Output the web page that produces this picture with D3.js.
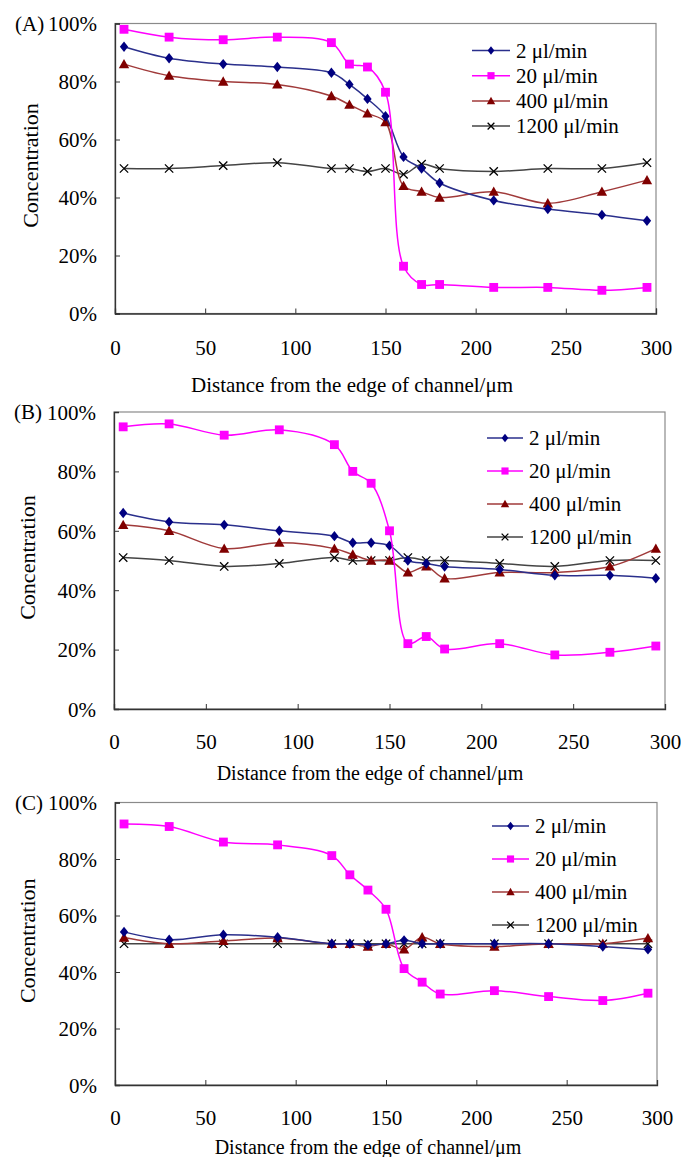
<!DOCTYPE html>
<html>
<head>
<meta charset="utf-8">
<script src="https://cdn.jsdelivr.net/npm/d3@7"></script>
<style>
  body { margin: 0; background: #fff; }
</style>
</head>
<body>
<svg id="chart" width="681" height="1157"></svg>
<script>
// distance from channel edge (um)
const distance = [5, 30, 60, 90, 120, 130, 140, 150, 160, 170, 180, 210, 240, 270, 295];
const flowRates = ["2 \u03bcl/min", "20 \u03bcl/min", "400 \u03bcl/min", "1200 \u03bcl/min"];
const xTicks = [0, 50, 100, 150, 200, 250, 300];
const yTicks = [0, 20, 40, 60, 80, 100];

// panel A (%)
const a2 = [92, 88, 86, 85, 83, 79, 74, 68, 54, 50, 45, 39, 36, 34, 32];
const a20 = [98, 95.3, 94.4, 95.3, 93.4, 86, 85, 76.3, 16.3, 10, 10, 9, 9, 8, 9];
const a400 = [86, 82, 80, 79, 75, 72, 69, 66, 44, 42, 40, 42, 38, 42, 46];
const a1200 = [50, 50, 51, 52, 50, 50, 49, 50, 48, 51.5, 50, 49, 50, 50, 52];

// panel B (%)
const b2 = [66, 63, 62, 60, 58.2, 56, 56, 55, 50, 49, 48, 47, 45, 45, 44];
const b20 = [95, 96, 92.2, 94, 89, 80, 76, 60, 22, 24.4, 20.2, 22, 18.2, 19.1, 21.2];
const b400 = [62, 60, 54, 56, 54, 52, 50, 50, 46, 48, 44, 46, 46, 48, 54];
const b1200 = [51, 50, 48, 49, 51, 50, 50, 50, 51, 50, 50, 49, 48, 50, 50];

// panel C (%)
const c2 = [54.2, 51.4, 53.2, 52.3, 50, 50, 49.6, 50, 51.2, 50, 50, 50, 50, 49, 48];
const c20 = [92.4, 91.5, 86, 85, 81.2, 74.4, 69, 62.2, 41.2, 36.4, 32.2, 33.4, 31.3, 29.9, 32.5];
const c400 = [52.2, 50, 51, 52, 50, 50, 49, 50, 48, 52.3, 50, 49, 50, 50, 52];
const c1200 = [50, 50, 50, 50, 50, 50, 50, 50, 50, 50, 50, 50, 50, 50, 50];

const FONT = "'Liberation Serif', 'Times New Roman', serif";

const styles = [
  { line: "#2a2f8c", fill: "#000080", mark: "diamond" },
  { line: "#ff00ff", fill: "#ff00ff", mark: "square" },
  { line: "#a03a3a", fill: "#800000", mark: "triangle" },
  { line: "#444444", fill: "#000000", mark: "cross" }
];

const panels = [
  { tag: "(A)", series: [a2, a20, a400, a1200], left: 115, right: 656, top: 23.5, bottom: 313.5,
    tickPad: 27, titleX: 352, titleY: 385, titleSize: 21, ylabX: 30,
    legX: 472, legW: 38, legY: 50.5, legStep: 25.2 },
  { tag: "(B)", series: [b2, b20, b400, b1200], left: 114, right: 665, top: 412, bottom: 709,
    tickPad: 25, titleX: 370, titleY: 773, titleSize: 20, ylabX: 27,
    legX: 487, legW: 36, legY: 438, legStep: 33 },
  { tag: "(C)", series: [c2, c20, c400, c1200], left: 115, right: 657, top: 802.5, bottom: 1085,
    tickPad: 25, titleX: 368, titleY: 1147, titleSize: 20, ylabX: 27,
    legX: 492, legW: 37, legY: 826, legStep: 33 }
];

const svg = d3.select("#chart");

function marker(g, kind, x, y, s, st) {
  if (kind === "diamond") {
    g.append("path").attr("d", `M${x},${y - s}L${x + s * 0.8},${y}L${x},${y + s}L${x - s * 0.8},${y}Z`)
      .attr("fill", st.fill);
  } else if (kind === "square") {
    g.append("rect").attr("x", x - s * 0.85).attr("y", y - s * 0.85)
      .attr("width", s * 1.7).attr("height", s * 1.7).attr("fill", st.fill);
  } else if (kind === "triangle") {
    g.append("path").attr("d", `M${x},${y - s}L${x + s},${y + s * 0.8}L${x - s},${y + s * 0.8}Z`)
      .attr("fill", st.fill);
  } else {
    g.append("path").attr("d", `M${x - s * 0.8},${y - s * 0.8}L${x + s * 0.8},${y + s * 0.8}M${x + s * 0.8},${y - s * 0.8}L${x - s * 0.8},${y + s * 0.8}`)
      .attr("stroke", st.fill).attr("stroke-width", 1.3).attr("fill", "none");
  }
}

panels.forEach(function(p) {
  const x = d3.scaleLinear().domain([0, 300]).range([p.left, p.right]);
  const y = d3.scaleLinear().domain([0, 100]).range([p.bottom, p.top]);
  const g = svg.append("g");

  // frame
  g.append("rect").attr("x", p.left).attr("y", p.top)
    .attr("width", p.right - p.left).attr("height", p.bottom - p.top)
    .attr("fill", "none").attr("stroke", "#8a8a8a").attr("stroke-width", 1.2);

  const xAxis = g.append("g").attr("transform", `translate(0,${p.bottom})`)
    .call(d3.axisBottom(x).tickValues(xTicks).tickSize(-5).tickPadding(p.tickPad).tickFormat(d3.format("d")));
  const yAxis = g.append("g").attr("transform", `translate(${p.left},0)`)
    .call(d3.axisLeft(y).tickValues(yTicks).tickSize(-5).tickPadding(18).tickFormat(d => d + "%"));
  [xAxis, yAxis].forEach(function(ax) {
    ax.attr("font-family", FONT).attr("font-size", 21);
    ax.select(".domain").attr("stroke", "#333").attr("stroke-width", 1.3);
    ax.selectAll(".tick line").attr("stroke", "#333");
    ax.selectAll("text").style("font-family", FONT).style("font-size", "21px").attr("fill", "#000");
  });
  yAxis.selectAll("text").attr("dy", "0.35em");

  g.append("text").attr("x", p.titleX).attr("y", p.titleY).attr("dy", "0.35em")
    .attr("text-anchor", "middle").style("font-family", FONT).style("font-size", p.titleSize + "px")
    .text("Distance from the edge of channel/\u03bcm");
  g.append("text").attr("transform", `translate(${p.ylabX},${(p.top + p.bottom) / 2 - 3}) rotate(-90)`)
    .attr("dy", "0.35em").attr("text-anchor", "middle")
    .style("font-family", FONT).style("font-size", "22px")
    .text("Concentration");
  g.append("text").attr("x", p.left - 100).attr("y", p.top).attr("dy", "0.35em")
    .style("font-family", FONT).style("font-size", "21px").text(p.tag);

  const line = d3.line().x((d, i) => x(distance[i])).y(d => y(d))
    .curve(d3.curveCatmullRom.alpha(0.5));

  // draw gray first, then red, blue, pink on top
  [3, 2, 0, 1].forEach(function(k) {
    const st = styles[k];
    const vals = p.series[k];
    g.append("path").datum(vals).attr("d", line)
      .attr("fill", "none").attr("stroke", st.line).attr("stroke-width", 1.5);
    const mg = g.append("g");
    vals.forEach(function(v, i) {
      marker(mg, st.mark, x(distance[i]), y(v), 5.2, st);
    });
  });

  // legend
  flowRates.forEach(function(name, k) {
    const st = styles[k];
    const ly = p.legY + k * p.legStep;
    g.append("line").attr("x1", p.legX).attr("x2", p.legX + p.legW)
      .attr("y1", ly).attr("y2", ly).attr("stroke", st.line).attr("stroke-width", 1.5);
    marker(g, st.mark, p.legX + p.legW / 2, ly, 4.2, st);
    g.append("text").attr("x", p.legX + p.legW + 6).attr("y", ly).attr("dy", "0.35em")
      .style("font-family", FONT).style("font-size", "21px").text(name);
  });
});
</script>
</body>
</html>
